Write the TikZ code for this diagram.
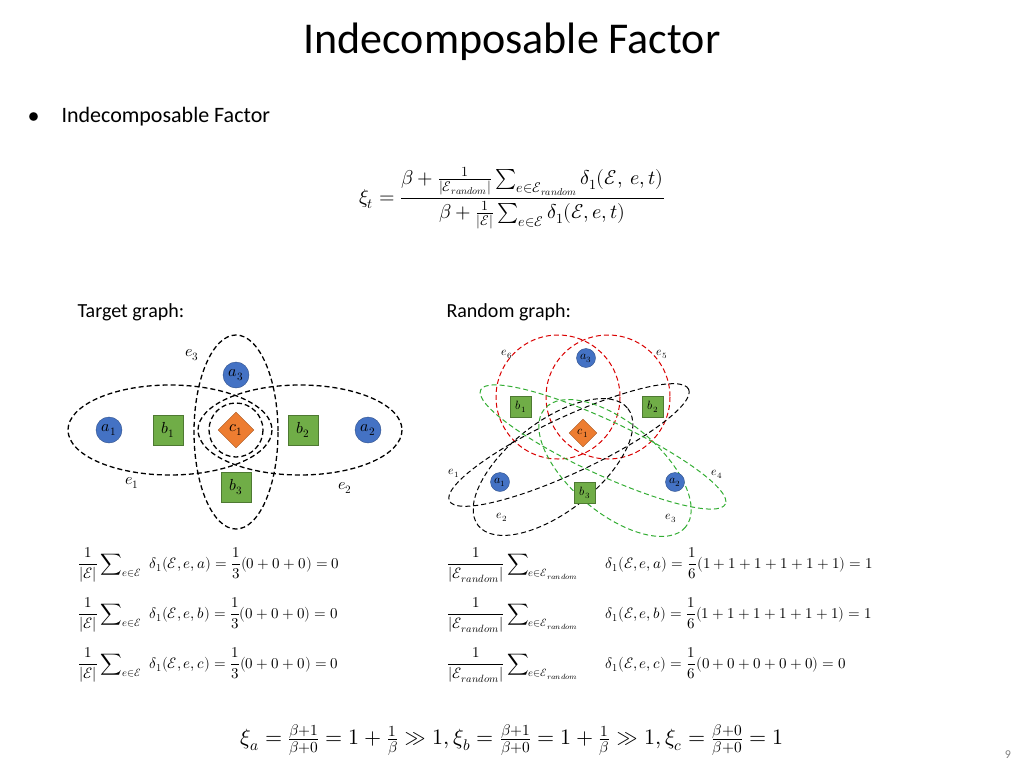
\documentclass[tikz,border=0pt]{standalone}
\usepackage{amsmath}
\usepackage{fontspec}
\usepackage{unicode-math}
\setmainfont{Carlito}
\setmathfont{Latin Modern Math}
\usetikzlibrary{shapes.geometric}
\begin{document}
\begin{tikzpicture}[x=1pt,y=-1pt,
  dsh/.style={dashed,line width=1.3pt,dash pattern=on 5pt off 3pt},
  anode/.style={circle,minimum size=26pt,inner sep=0pt,font=\fontsize{16}{16}\selectfont},
  bnode/.style={rectangle,minimum size=30pt,inner sep=0pt,font=\fontsize{16}{16}\selectfont},
  cnode/.style={diamond,minimum size=36pt,inner sep=0pt,font=\fontsize{16}{16}\selectfont},
  ra/.style={anode,minimum size=19pt,font=\fontsize{12}{12}\selectfont},
  rb/.style={bnode,minimum size=21pt,font=\fontsize{12}{12}\selectfont},
  rc/.style={cnode,minimum size=28pt,font=\fontsize{12}{12}\selectfont},
  lab/.style={font=\fontsize{16}{16}\selectfont},
  rlab/.style={font=\fontsize{12}{12}\selectfont},
  eq/.style={anchor=west,font=\fontsize{15}{17}\selectfont,inner sep=0pt}]
\useasboundingbox (0,0) rectangle (1024,768);
\definecolor{ablue}{RGB}{68,114,196}
\definecolor{bgreen}{RGB}{112,173,71}
\definecolor{corange}{RGB}{237,125,49}
\tikzset{anode/.append style={fill=ablue,draw=ablue!70!black},bnode/.append style={fill=bgreen,draw=bgreen!70!black},cnode/.append style={fill=corange,draw=corange!70!black}}
\node (title) at (512,42) {\fontsize{44}{44}\selectfont Indecomposable Factor};
\node[anchor=west] (bul) at (25,117) {\fontsize{22}{22}\selectfont $\bullet$\hspace{22pt}Indecomposable Factor};
\node (xit) at (512,198) {\fontsize{20}{22}\selectfont $\displaystyle \xi_t=\frac{\beta+\frac{1}{|\mathcal{E}_{random}|}\sum\nolimits_{e\in\mathcal{E}_{random}}\delta_1(\mathcal{E},\ e,t)}{\beta+\frac{1}{|\mathcal{E}|}\sum\nolimits_{e\in\mathcal{E}}\delta_1(\mathcal{E},e,t)}$};
\node[anchor=west] (tg) at (74,312) {\fontsize{20}{20}\selectfont Target graph:};
\node[anchor=west] (rg) at (443,312) {\fontsize{20}{20}\selectfont Random graph:};
% target graph
\node[anode] (a1) at (109,430) {$a_1$};
\node[bnode] (b1) at (168,430) {$b_1$};
\node[cnode] (c1) at (236,430) {$c_1$};
\node[bnode] (b2) at (303,430) {$b_2$};
\node[anode] (a2) at (368,430) {$a_2$};
\node[anode] (a3) at (236,375) {$a_3$};
\node[bnode] (b3) at (236,487) {$b_3$};
\draw[dsh] (170,430) ellipse [x radius=102,y radius=45];
\draw[dsh] (300,430) ellipse [x radius=102,y radius=45];
\draw[dsh] (236,432) ellipse [x radius=42,y radius=97];
\draw[dsh] (236,430) circle [radius=27];
\node[lab] (le3) at (192,355) {$e_3$};
\node[lab] (le1) at (132,483) {$e_1$};
\node[lab] (le2) at (345,488) {$e_2$};
% random graph
\draw[dsh,red!85!black,line width=1pt] (558,397) circle [radius=62];
\draw[dsh,red!85!black,line width=1pt] (608,397) circle [radius=62];
\draw[dsh,black,line width=1pt,rotate around={25:(569,445)}] (569,445) ellipse [x radius=132,y radius=28];
\draw[dsh,black,line width=1pt,rotate around={38:(553,467)}] (553,467) ellipse [x radius=95,y radius=45];
\draw[dsh,green!60!black!80,line width=1pt,rotate around={-25:(603,447)}] (603,447) ellipse [x radius=135,y radius=27];
\draw[dsh,green!60!black!80,line width=1pt,rotate around={-40:(615,468)}] (615,468) ellipse [x radius=92,y radius=45];
\node[ra] (ra3) at (586,358) {$a_3$};
\node[rb] (rb1) at (521,407) {$b_1$};
\node[rb] (rb2) at (653,407) {$b_2$};
\node[rc] (rc1) at (583,433) {$c_1$};
\node[ra] (ra1) at (500,482) {$a_1$};
\node[rb] (rb3) at (585,493) {$b_3$};
\node[ra] (ra2) at (675,482) {$a_2$};
\node[rlab] (re6) at (507,354) {$e_6$};
\node[rlab] (re5) at (662,354) {$e_5$};
\node[rlab] (re1) at (454,473) {$e_1$};
\node[rlab] (re4) at (717,474) {$e_4$};
\node[rlab] (re2) at (502,517) {$e_2$};
\node[rlab] (re3) at (671,518) {$e_3$};
% equations
\foreach \v/\y/\nm in {a/565/l1,b/615/l2,c/665/l3}{
  \node[eq] (\nm) at (78,\y) {$\displaystyle\frac{1}{|\mathcal{E}|}\sum\nolimits_{e\in\mathcal{E}}\hspace{6pt}\delta_1(\mathcal{E},e,\v)=\frac{1}{3}(0+0+0)=0$};
}
\node[eq] (r1) at (447,565) {$\displaystyle\frac{1}{|\mathcal{E}_{random}|}\sum\nolimits_{e\in\mathcal{E}_{random}}\hspace{25pt}\delta_1(\mathcal{E},e,a)=\frac{1}{6}(1+1+1+1+1+1)=1$};
\node[eq] (r2) at (447,615) {$\displaystyle\frac{1}{|\mathcal{E}_{random}|}\sum\nolimits_{e\in\mathcal{E}_{random}}\hspace{25pt}\delta_1(\mathcal{E},e,b)=\frac{1}{6}(1+1+1+1+1+1)=1$};
\node[eq] (r3) at (447,665) {$\displaystyle\frac{1}{|\mathcal{E}_{random}|}\sum\nolimits_{e\in\mathcal{E}_{random}}\hspace{25pt}\delta_1(\mathcal{E},e,c)=\frac{1}{6}(0+0+0+0+0)=0$};
\node (fin) at (512,740) {\fontsize{22}{24}\selectfont $\xi_a=\frac{\beta+1}{\beta+0}=1+\frac{1}{\beta}\gg 1,\xi_b=\frac{\beta+1}{\beta+0}=1+\frac{1}{\beta}\gg 1,\xi_c=\frac{\beta+0}{\beta+0}=1$};
\node[text=gray] (pg) at (1008,755) {\fontsize{12}{12}\selectfont 9};
\end{tikzpicture}
\end{document}
